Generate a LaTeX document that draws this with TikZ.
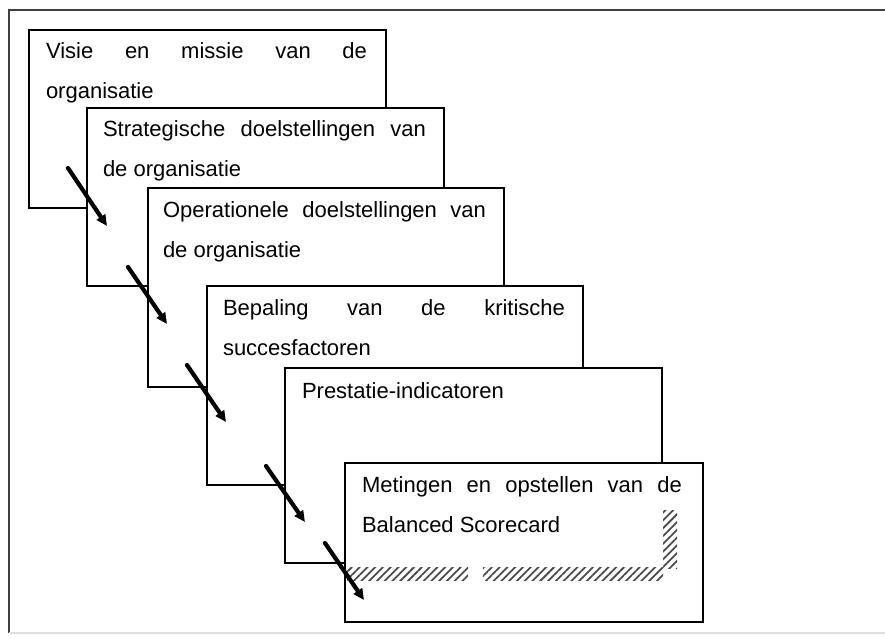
\documentclass[tikz,border=0pt]{standalone}
\usepackage{fontspec}
\setmainfont{Liberation Sans}
\usetikzlibrary{arrows.meta,patterns.meta}
\begin{document}
\begin{tikzpicture}[x=1pt,y=-1pt,
  stage/.style={draw=black,fill=white,line width=1.5pt,rectangle},
  txt/.style={anchor=base west,inner sep=0pt,outer sep=0pt,font=\fontsize{22}{40}\selectfont},
  flow/.style={line width=4.2pt,line cap=round,-{Triangle[length=11pt,width=10pt]}},
  hatch/.style={pattern={Lines[angle=45,distance=5.5pt,line width=1.8pt]},pattern color=black!70}]
\useasboundingbox (0,0) rectangle (885,639);
\fill[white] (0,0) rectangle (885,639);
% outer frame
\draw[black!75,line width=2pt] (9,633) -- (9,10) -- (885,10);
\draw[black!12,line width=1.5pt] (9,633) -- (885,633);
% box 1
\draw[stage] (29,30) rectangle (386,208);
\node[txt] (t1a) at (46,59) {\makebox[321pt][s]{Visie en missie van de}};
\node[txt] (t1b) at (46,99) {organisatie};
% box 2
\draw[stage] (87,108) rectangle (444,286);
\node[txt] (t2a) at (103,137) {\makebox[323pt][s]{Strategische doelstellingen van}};
\node[txt] (t2b) at (103,177) {de organisatie};
% box 3
\draw[stage] (148,188) rectangle (504,387);
\node[txt] (t3a) at (163,217) {\makebox[323pt][s]{Operationele doelstellingen van}};
\node[txt] (t3b) at (163,257) {de organisatie};
% box 4
\draw[stage] (207,286) rectangle (583,485);
\node[txt] (t4a) at (223,315) {\makebox[342pt][s]{Bepaling van de kritische}};
\node[txt] (t4b) at (223,355) {succesfactoren};
% box 5
\draw[stage] (285,368) rectangle (662,563);
\node[txt] (t5a) at (302,398) {Prestatie-indicatoren};
% box 6
\draw[stage] (345,463) rectangle (703,622);
\fill[hatch] (347,567) rectangle (468,580);
\fill[hatch] (483,567) rectangle (663,580);
\fill[hatch] (663,510) rectangle (677,568);
\node[txt] (t6a) at (362,492) {\makebox[320pt][s]{Metingen en opstellen van de}};
\node[txt] (t6b) at (362,532) {Balanced Scorecard};
% arrows
\coordinate (a1s) at (68,168); \coordinate (a1e) at (107,226);
\coordinate (a2s) at (128,267); \coordinate (a2e) at (167,324);
\coordinate (a3s) at (187,365); \coordinate (a3e) at (226,422);
\coordinate (a4s) at (266,466); \coordinate (a4e) at (305,522);
\coordinate (a5s) at (325,543); \coordinate (a5e) at (364,600);
\draw[flow] (a1s) -- (a1e);
\draw[flow] (a2s) -- (a2e);
\draw[flow] (a3s) -- (a3e);
\draw[flow] (a4s) -- (a4e);
\draw[flow] (a5s) -- (a5e);
\end{tikzpicture}
\end{document}
